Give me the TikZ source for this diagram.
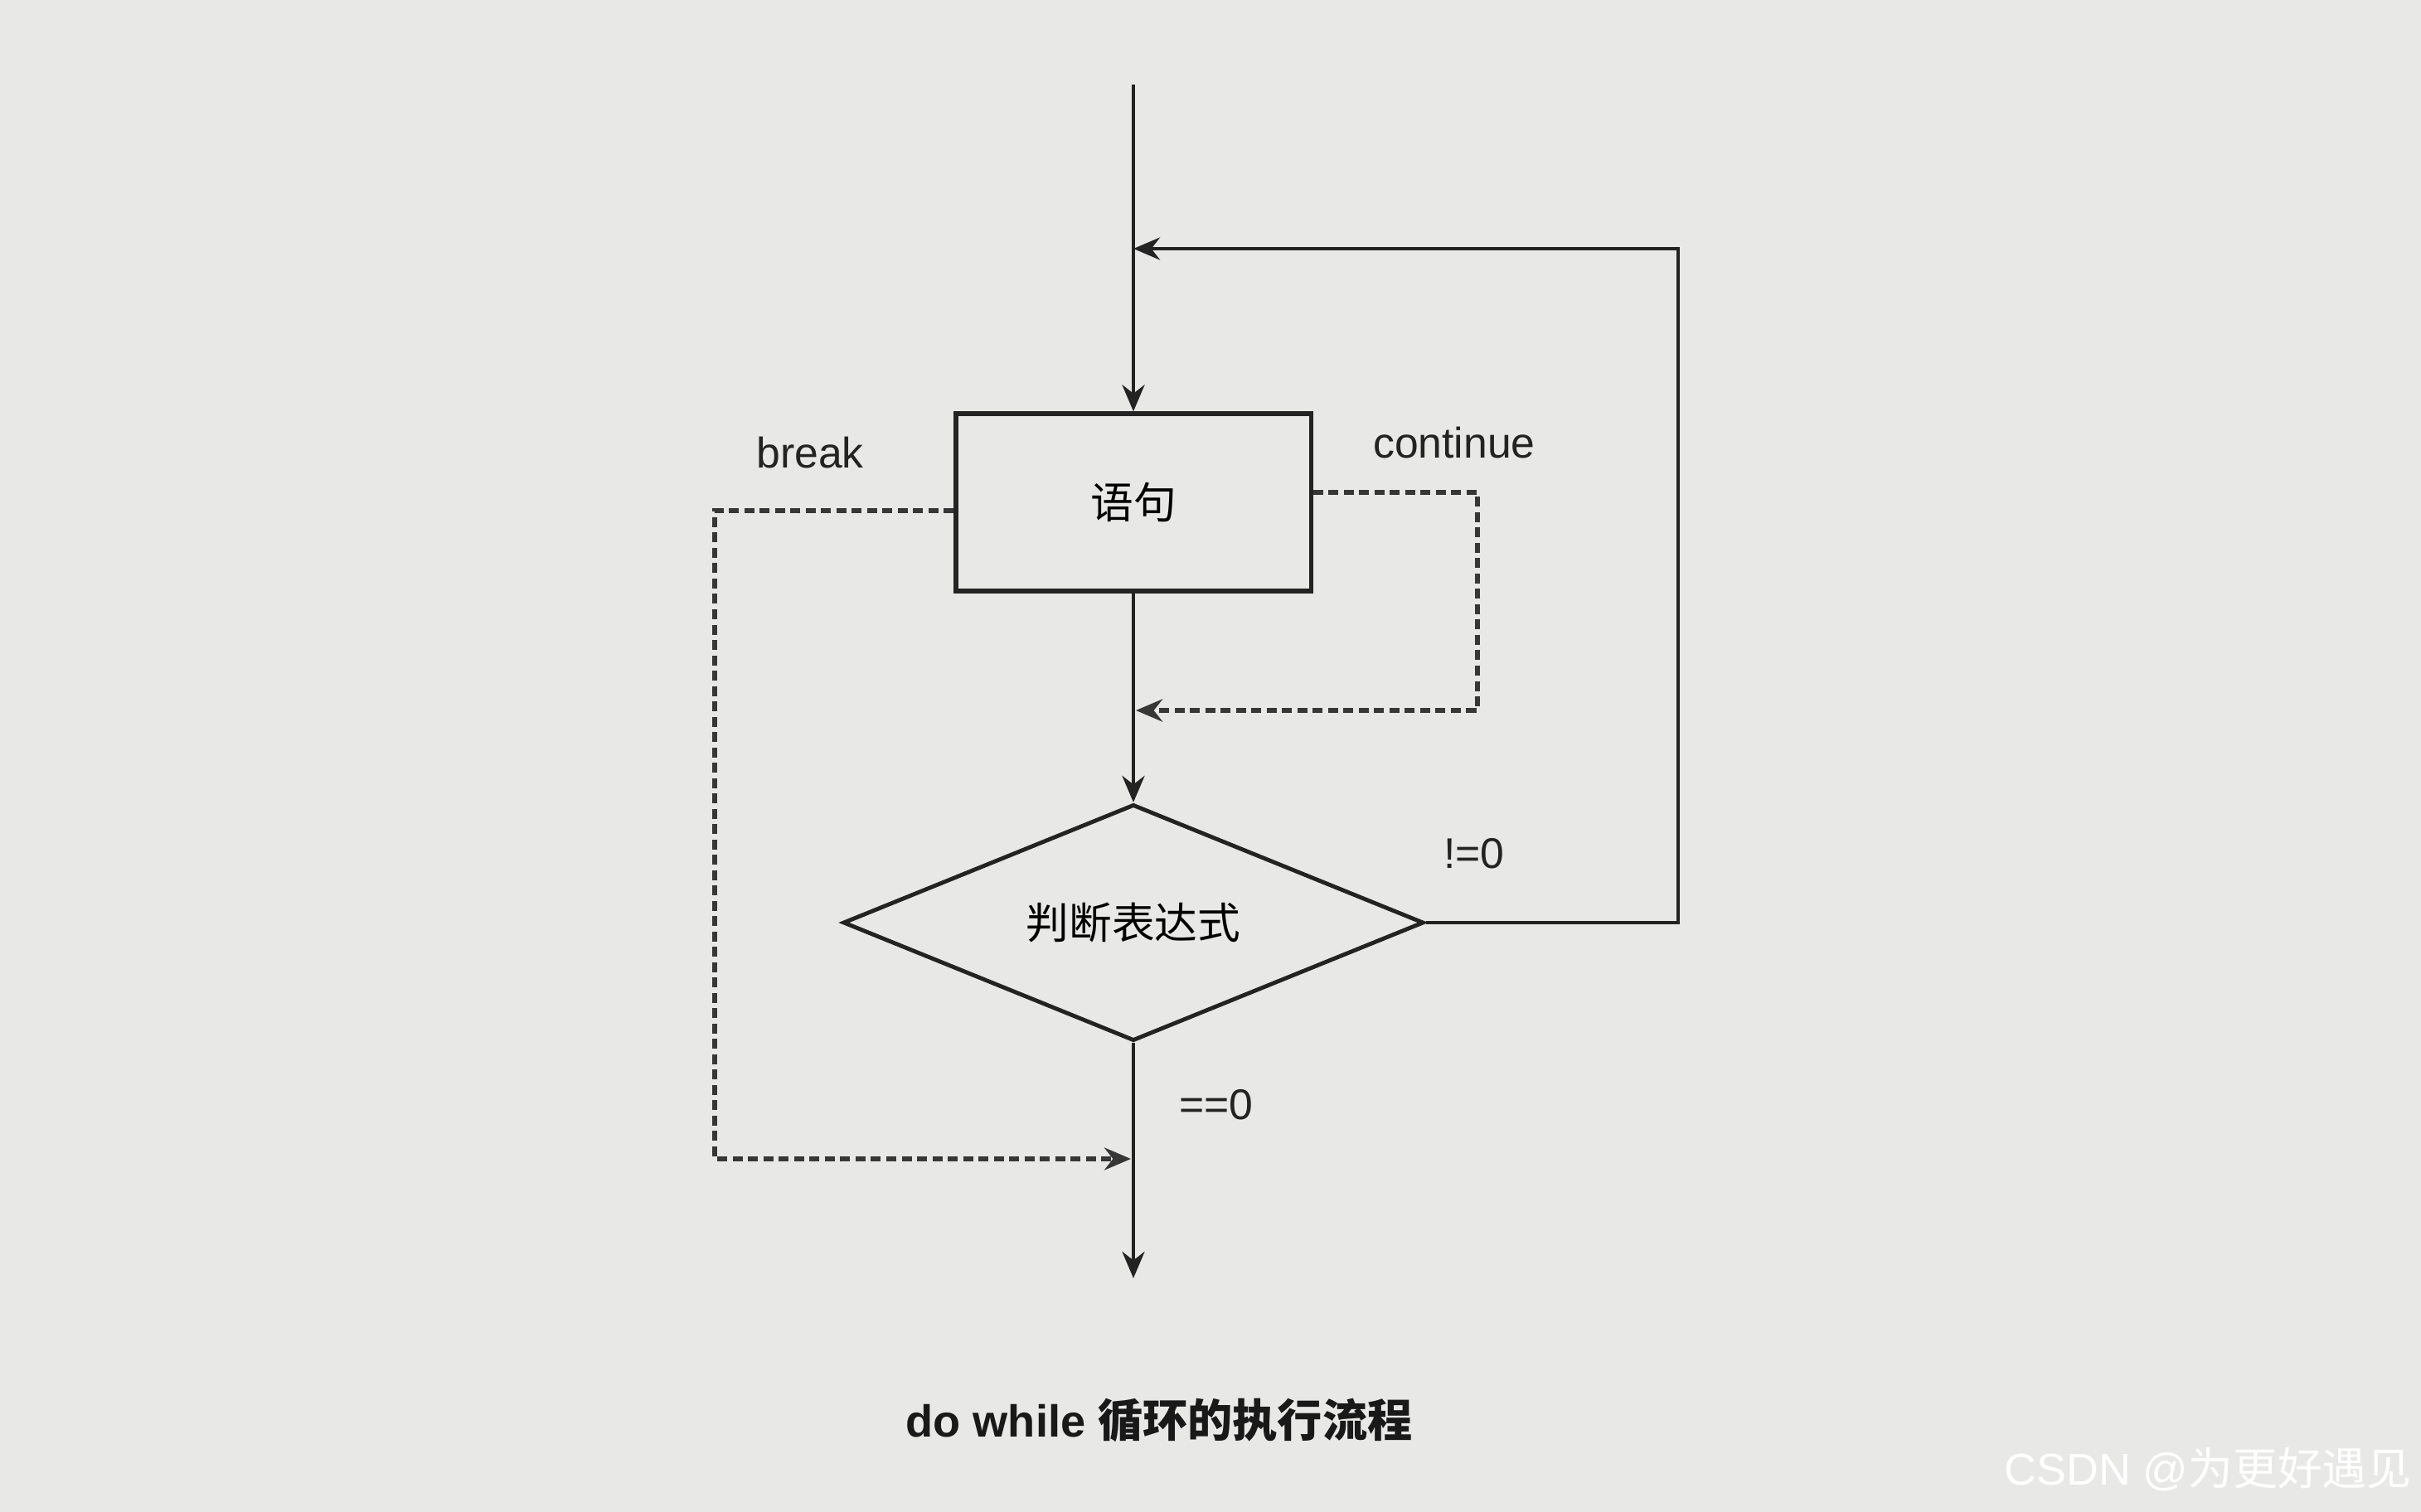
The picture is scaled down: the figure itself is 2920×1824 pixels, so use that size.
\documentclass[tikz,border=0pt]{standalone}
\usepackage{fontspec}
\setmainfont{Liberation Sans}
\newfontfamily\cjk{Noto Sans CJK SC}
\usetikzlibrary{shapes.geometric, arrows.meta, positioning}
\definecolor{paper}{RGB}{232,232,231}
\definecolor{ink}{RGB}{35,35,35}
\definecolor{dashink}{RGB}{55,55,55}

\begin{document}
\begin{tikzpicture}[x=0.01cm, y=-0.01cm,
  box/.style={rectangle, draw=ink, line width=1.5pt, fill=paper,
              minimum width=4.28cm, minimum height=2.14cm,
              font=\fontsize{14.7}{16}\selectfont\cjk},
  dia/.style={diamond, aspect=2.45, draw=ink, line width=1.4pt, fill=paper, inner sep=0pt,
              minimum width=7.0cm, minimum height=2.85cm,
              font=\fontsize{14.7}{16}\selectfont\cjk},
  lbl/.style={font=\fontsize{14.7}{16}\selectfont, text=ink},
  arr/.style={-{Stealth[length=0.32cm, width=0.27cm]}, line width=1.3pt, ink},
  dasharr/.style={-{Stealth[length=0.32cm, width=0.27cm]}, line width=1.6pt, dashink,
                  dash pattern=on 0.12cm off 0.065cm},
]
  \fill[paper] (0,0) rectangle (2920,1824);
  \useasboundingbox (0,0) rectangle (2920,1824);

  \node[box] (stmt) at (1367,606) {语句};
  \node[dia] (cond) at (1367,1113) {判断表达式};

  \coordinate (start) at (1367,102);
  \coordinate (loopjoin) at (1367,300);
  \coordinate (loopcorner) at (2024,300);
  \coordinate (contcorner) at (1782,857);
  \coordinate (contjoin) at (1370,857);
  \coordinate (brkcorner) at (862,1398);
  \coordinate (brkjoin) at (1364,1398);
  \coordinate (finish) at (1367,1542);

  % main flow
  \draw[arr] (start) -- (stmt.north);
  \draw[arr] (stmt.south) -- (cond.north);
  \draw[arr] (cond.south) -- (finish);
  \draw[arr] (cond.east) -| (loopcorner) -- (loopjoin);

  % continue / break
  \draw[dasharr] ([yshift=0.12cm]stmt.east) -| (contcorner) -- (contjoin);
  \draw[dasharr] ([yshift=-0.1cm]stmt.west) -| (brkcorner) -- (brkjoin);

  \node[lbl] (brklbl) at (977,546) {break};
  \node[lbl] (contlbl) at (1754,534) {continue};
  \node[lbl] (truelbl) at (1778,1030) {!=0};
  \node[lbl] (falselbl) at (1467,1333) {==0};

  \node[font=\fontsize{15.4}{18}\selectfont\bfseries, text=black!90] (caption) at (1398,1713)
    {do while {\cjk\bfseries 循环的执行流程}};
  \node[font=\fontsize{15.3}{17}\selectfont, text=white] (mark) at (2663,1773)
    {CSDN @{\cjk 为更好遇见}};
\end{tikzpicture}
\end{document}
